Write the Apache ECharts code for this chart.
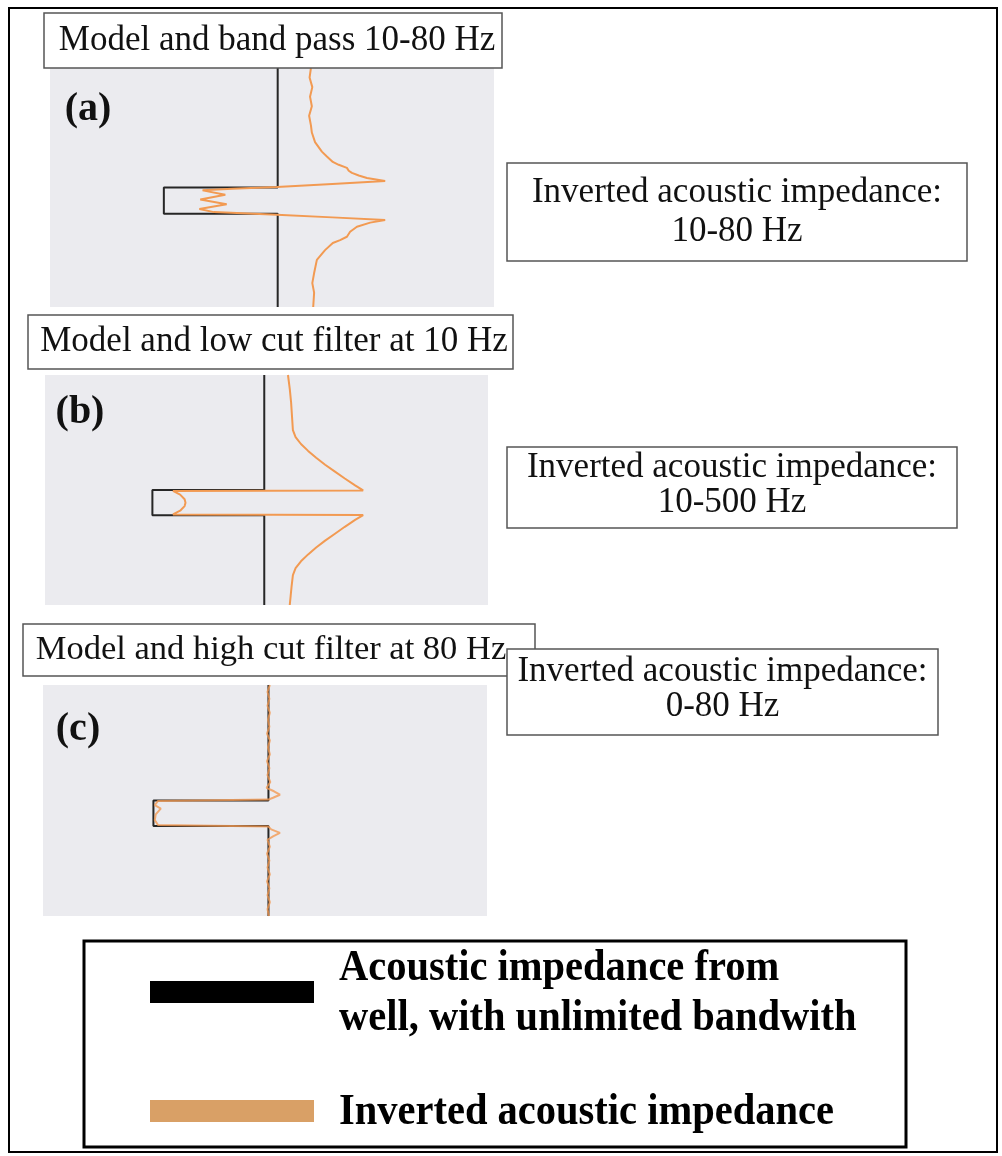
<!DOCTYPE html>
<html>
<head>
<meta charset="utf-8">
<script src="https://cdn.jsdelivr.net/npm/echarts@6/dist/echarts.min.js"></script>
<style>
  html, body { margin: 0; padding: 0; background: #ffffff; }
  #chart { width: 1002px; height: 1156px; }
</style>
</head>
<body>
<div id="chart"></div>
<script>
// Well model: acoustic impedance (normalised units) against two-way time (ms)
const modelImpedance = [50, 50, 25, 25, 50, 50];
const modelTime      = [0, 50, 50, 61, 61, 100];

// Inverted acoustic impedance, [impedance, time] pairs
const bandPassTrace = [
  [57.3, 0], [57.0, 4], [57.6, 8], [57.1, 12], [57.5, 16], [56.9, 20], [57.3, 24],
  [57.5, 27], [58.2, 31], [59.7, 35], [60.8, 37], [62.1, 39.3], [63.4, 40.5],
  [65.2, 41.8], [65.6, 43], [66.3, 43.9], [67.8, 45], [69.6, 46], [73.6, 47.3],
  [62.0, 48.5], [49.8, 49.8], [40.0, 50.5], [33.5, 51.2], [38.5, 53], [33.0, 55],
  [38.8, 57], [32.8, 59], [36.0, 60.3], [49.8, 61.4], [62.0, 62.5], [73.6, 63.6],
  [70.3, 64.7], [67.4, 66.4], [65.9, 68.5], [65.2, 70.6], [63.7, 72], [62.1, 73.2],
  [60.4, 76.2], [58.6, 80.3], [58.0, 85.8], [57.6, 90], [58.0, 94], [57.8, 100]
];
const lowCutTrace = [
  [55.3, 0], [55.7, 6], [56.0, 12], [56.2, 18], [56.4, 24], [57.0, 27], [58.2, 30],
  [59.8, 33], [61.6, 36], [63.6, 39], [65.8, 42], [68.0, 45], [70.3, 48], [72.1, 50.2],
  [29.6, 50.4], [31.2, 52], [32.2, 54], [32.4, 55.5], [32.2, 57], [31.2, 59], [29.6, 60.6],
  [72.1, 60.9], [70.3, 63], [68.0, 66], [65.8, 69], [63.6, 72], [61.6, 75], [59.8, 78],
  [58.2, 81], [57.0, 84], [56.4, 87], [56.1, 92], [55.9, 96], [55.7, 100]
];
const highCutTrace = [
  [50.3, 0], [49.8, 3], [50.2, 6], [49.8, 9], [50.3, 12], [49.9, 15], [50.2, 18],
  [49.7, 21], [50.3, 24], [49.9, 27], [50.3, 30], [49.7, 33], [50.2, 36], [49.8, 39],
  [50.4, 42], [49.6, 44.5], [51.2, 46], [52.5, 47.5], [51.0, 48.8], [50.0, 49.6],
  [26.0, 50.2], [25.3, 52], [26.6, 53.5], [25.5, 56], [25.3, 58.5], [26.0, 60.6],
  [50.0, 61.3], [50.6, 62.5], [52.5, 64], [51.0, 65.5], [49.8, 67], [50.3, 70],
  [49.7, 73], [50.2, 76], [49.8, 79], [50.3, 82], [49.7, 85], [50.2, 88], [49.8, 91],
  [50.3, 94], [49.8, 97], [50.1, 100]
];

// Text
const panelTitles  = ['Model and band pass 10-80 Hz', 'Model and low cut filter at 10 Hz', 'Model and high cut filter at 80 Hz'];
const panelLetters = ['(a)', '(b)', '(c)'];
const resultTitle  = 'Inverted acoustic impedance:';
const resultBands  = ['10-80 Hz', '10-500 Hz', '0-80 Hz'];
const legendLines  = ['Acoustic impedance from', 'well, with unlimited bandwith', 'Inverted acoustic impedance'];

const SERIF = '"Liberation Serif", "Times New Roman", Times, serif';
const BLACK = '#262626';
const ORANGE = '#f29a52';

const modelData = modelImpedance.map((v, i) => [v, modelTime[i]]);
const traces = [bandPassTrace, lowCutTrace, highCutTrace];

// Plot frames of the three panels
const grids = [
  { left: 50, top: 68,  width: 444, height: 239 },
  { left: 45, top: 375, width: 443, height: 230 },
  { left: 43, top: 685, width: 444, height: 231 }
];
const impRange = [[0, 97.5], [1, 100], [1, 97.5]];

const option = {
  animation: false,
  backgroundColor: '#ffffff',
  grid: grids.map(g => Object.assign({ show: true, backgroundColor: '#ebebef', borderWidth: 0 }, g)),
  xAxis: grids.map((g, i) => ({
    type: 'value', gridIndex: i, min: impRange[i][0], max: impRange[i][1], show: false
  })),
  yAxis: grids.map((g, i) => ({
    type: 'value', gridIndex: i, min: 0, max: 100, inverse: true, show: false
  })),
  series: []
};

traces.forEach((trace, i) => {
  option.series.push({
    type: 'line', xAxisIndex: i, yAxisIndex: i, data: modelData,
    symbol: 'none', z: 2, silent: true,
    lineStyle: { color: BLACK, width: 2 }
  });
  option.series.push({
    type: 'line', xAxisIndex: i, yAxisIndex: i, data: trace,
    symbol: 'none', z: 3, silent: true,
    lineStyle: { color: ORANGE, width: 2, opacity: i === 2 ? 0.8 : 1 }
  });
});

function txt(x, y, text, size, opts, z) {
  return {
    type: 'text', x: x, y: y, z: z || 20,
    style: Object.assign({
      text: text, fill: '#111', fontSize: size, fontFamily: SERIF,
      align: 'center', textAlign: 'center', verticalAlign: 'middle', textVerticalAlign: 'middle'
    }, opts || {})
  };
}
function box(x, y, w, h, stroke, lw, z) {
  return {
    type: 'rect', z: z, shape: { x: x, y: y, width: w, height: h },
    style: { fill: '#ffffff', stroke: stroke, lineWidth: lw }
  };
}

const titleBoxes  = [[44, 13, 458, 55], [28, 315, 485, 54], [23, 624, 512, 52]];
const titleCenter = [[277, 41], [274, 342], [271, 650]];
const titleSize   = [35, 35, 34.5];
const resultBoxes = [[507, 163, 460, 98], [507, 447, 450, 81], [507, 649, 431, 86]];
const resultLineY = [[193, 232], [468, 503], [672, 707]];
const letterPos   = [[88, 110], [80, 413], [78, 730]];

const graphics = [];
panelTitles.forEach((t, i) => {
  const b = titleBoxes[i];
  graphics.push(box(b[0], b[1], b[2], b[3], '#555', 1.5, 14));
  graphics.push(txt(titleCenter[i][0], titleCenter[i][1], t, titleSize[i], null, 15));
  const r = resultBoxes[i];
  const cx = r[0] + r[2] / 2;
  graphics.push(box(r[0], r[1], r[2], r[3], '#555', 1.5, 16));
  graphics.push(txt(cx, resultLineY[i][0], resultTitle, 35, null, 17));
  graphics.push(txt(cx, resultLineY[i][1], resultBands[i], 35, null, 17));
  graphics.push(txt(letterPos[i][0], letterPos[i][1], panelLetters[i], 40, { fontWeight: 'bold' }, 17));
});

// Legend
graphics.push({
  type: 'rect', z: 15, shape: { x: 84, y: 941, width: 822, height: 206 },
  style: { fill: '#ffffff', stroke: '#000', lineWidth: 3 }
});
graphics.push({ type: 'rect', z: 16, shape: { x: 150, y: 981, width: 164, height: 22 }, style: { fill: '#000' } });
graphics.push({ type: 'rect', z: 16, shape: { x: 150, y: 1100, width: 164, height: 22 }, style: { fill: '#d9a066' } });
[968, 1018, 1112].forEach((y, i) => {
  const t = txt(339, y, legendLines[i], 45, { fontWeight: 'bold', align: 'left', textAlign: 'left', fill: '#000' }, 17);
  t.scaleX = 0.9;
  graphics.push(t);
});

// Outer frame
graphics.push({
  type: 'rect', z: 30, shape: { x: 9, y: 8, width: 988, height: 1144 },
  style: { fill: 'none', stroke: '#000', lineWidth: 2 }
});

option.graphic = { elements: graphics };

const chart = echarts.init(document.getElementById('chart'), null, { renderer: 'canvas' });
chart.setOption(option);
</script>
</body>
</html>
